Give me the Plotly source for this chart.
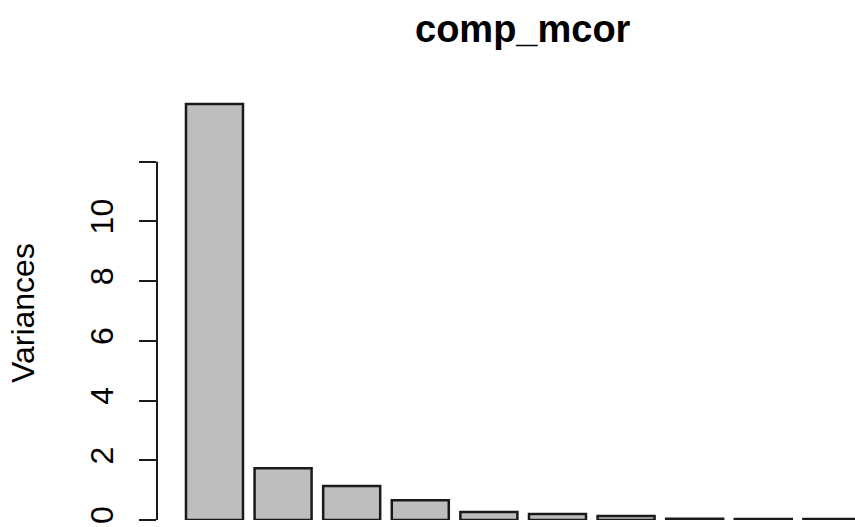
import plotly.graph_objects as go

components = ["Comp.1", "Comp.2", "Comp.3", "Comp.4", "Comp.5",
              "Comp.6", "Comp.7", "Comp.8", "Comp.9", "Comp.10"]
variances = [13.93, 1.73, 1.14, 0.66, 0.27, 0.20, 0.13, 0.04, 0.03, 0.03]
y_ticks = [0, 2, 4, 6, 8, 10, 12]
y_tick_labels = ["0", "2", "4", "6", "8", "10", ""]
title_text = "comp_mcor"
y_label = "Variances"

FONT = "Liberation Sans, Arial, Helvetica, sans-serif"
W, H = 855, 527
ML, MR, MT, MB = 157, 0, 87, 7

fig = go.Figure(go.Bar(
    x=components, y=variances,
    marker=dict(color="#BEBEBE", line=dict(color="#1a1a1a", width=2.5)),
    hoverinfo="x+y",
))

fig.update_layout(
    width=W, height=H,
    margin=dict(l=ML, r=MR, t=MT, b=MB),
    plot_bgcolor="white", paper_bgcolor="white",
    bargap=0.169,
    showlegend=False,
    font=dict(family=FONT, size=32, color="#000000"),
)
fig.update_xaxes(
    range=[-0.838, 9.337], showticklabels=False, ticks="",
    showline=False, showgrid=False, zeroline=False, fixedrange=True,
)
fig.update_yaxes(
    range=[0, 14.5], tickvals=y_ticks, ticktext=y_tick_labels,
    ticks="outside", ticklen=17, tickwidth=2, tickcolor="#1a1a1a",
    tickangle=-90, ticklabelstandoff=13,
    tickfont=dict(family=FONT, size=32, color="#000000"),
    showline=False, showgrid=False, zeroline=False, fixedrange=True,
)
fig.add_shape(type="line", xref="paper", yref="y", x0=0, x1=0,
              y0=y_ticks[0], y1=y_ticks[-1],
              line=dict(color="#1a1a1a", width=2))

# title
fig.add_annotation(text="<b>" + title_text + "</b>", xref="paper", yref="paper",
                   x=(522.5 - ML) / (W - ML - MR), y=1 + (MT - 28.6) / (H - MT - MB),
                   xanchor="center", yanchor="middle", showarrow=False,
                   font=dict(family=FONT, size=38, color="#000000"))
# y label
fig.add_annotation(text=y_label, xref="paper", yref="paper",
                   x=0, xshift=23 - ML, y=(H - MB - 313) / (H - MT - MB),
                   xanchor="center", yanchor="middle", textangle=-90, showarrow=False,
                   font=dict(family=FONT, size=32, color="#000000"))

fig.write_html(
    "out.html",
    config={"displayModeBar": False},
    post_script="document.body.style.margin='0';document.body.style.overflow='hidden';",
)
